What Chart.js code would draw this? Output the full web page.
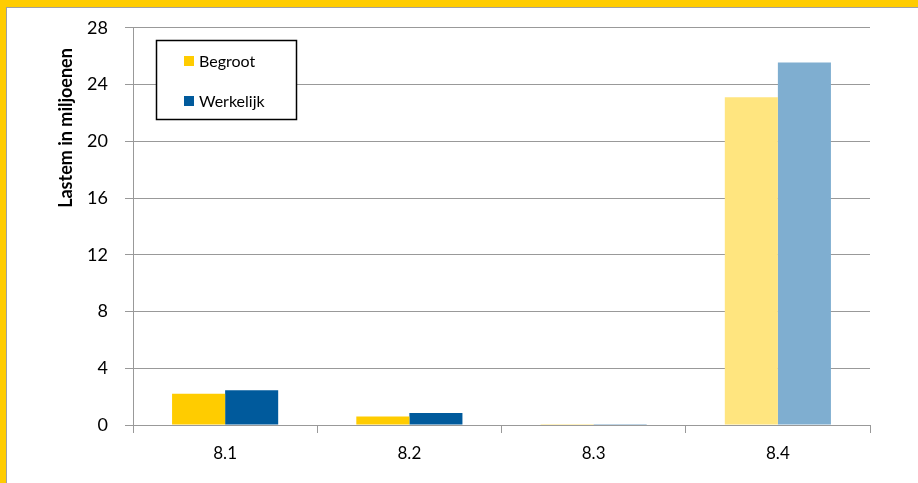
<!DOCTYPE html>
<html>
<head>
<meta charset="utf-8">
<script src="https://cdn.jsdelivr.net/npm/chart.js@4"></script>
<style>
    html, body { margin: 0; padding: 0; background: #fff; }
    #frame {
        position: absolute; left: 0; top: 0; width: 918px; height: 483px; box-sizing: border-box;
        border-left: 6px solid #FFCC00; border-top: 7px solid #FFCC00;
    }
    #inner { width: 100%; height: 100%; box-sizing: border-box; border-left: 1px solid #A0A0A0; border-top: 1px solid #A0A0A0; }
    #wrap { position: absolute; left: 0; top: 0; width: 918px; height: 483px; }
</style>
</head>
<body>
<div id="frame"><div id="inner"></div></div>
<div id="wrap"><canvas id="chart"></canvas></div>
<script>
const categories = ['8.1', '8.2', '8.3', '8.4'];
const begroot = [2.2, 0.6, 0.05, 23.1];
const werkelijk = [2.45, 0.85, 0.05, 25.55];
const yTicks = [0, 4, 8, 12, 16, 20, 24, 28];
const yTitle = 'Lastem in miljoenen';

const FONT = 'Lato, "Open Sans", sans-serif';
const yellow = '#FFCC00', yellowPale = '#FFE57F';
const blue = '#005A9C', bluePale = '#7FAED0';

// last group is drawn in the paler tints
const begrootColors = categories.map((c, i) => i === categories.length - 1 ? yellowPale : yellow);
const werkelijkColors = categories.map((c, i) => i === categories.length - 1 ? bluePale : blue);

const yTitlePlugin = {
    id: 'yTitle',
    afterDraw(chart) {
        const ctx = chart.ctx;
        ctx.save();
        ctx.translate(66, 128);
        ctx.rotate(-Math.PI / 2);
        ctx.font = 'bold 18px ' + FONT;
        ctx.fillStyle = '#000';
        ctx.textAlign = 'center';
        ctx.textBaseline = 'middle';
        ctx.fillText(yTitle, 0, 0);
        ctx.restore();
    }
};

const boxLegend = {
    id: 'boxLegend',
    afterDatasetsDraw(chart) {
        const ctx = chart.ctx;
        ctx.save();
        ctx.fillStyle = '#fff';
        ctx.fillRect(156, 40, 141, 80);
        ctx.strokeStyle = '#000';
        ctx.lineWidth = 1.5;
        ctx.strokeRect(156.5, 40.5, 140, 79);
        ctx.font = '16px ' + FONT;
        ctx.textBaseline = 'middle';
        chart.data.datasets.forEach((ds, i) => {
            const y = 61 + i * 40;
            ctx.fillStyle = ds.legendColor;
            ctx.fillRect(184, y - 5, 10, 10);
            ctx.fillStyle = '#000';
            ctx.fillText(ds.label, 199, y + 1);
        });
        ctx.restore();
    }
};

new Chart(document.getElementById('chart'), {
    type: 'bar',
    data: {
        labels: categories,
        datasets: [
            { label: 'Begroot', data: begroot, backgroundColor: begrootColors, legendColor: yellow, borderWidth: 0 },
            { label: 'Werkelijk', data: werkelijk, backgroundColor: werkelijkColors, legendColor: blue, borderWidth: 0 }
        ]
    },
    options: {
        responsive: true,
        maintainAspectRatio: false,
        animation: false,
        layout: { padding: { left: 0, top: 25, right: 48, bottom: 0 } },
        datasets: { bar: { categoryPercentage: 0.576, barPercentage: 1.0 } },
        plugins: { legend: { display: false }, tooltip: { enabled: false } },
        scales: {
            x: {
                grid: { drawOnChartArea: false, drawTicks: true, tickLength: 8, color: '#999', offset: true },
                border: { color: '#999', width: 1 },
                ticks: { color: '#000', font: { family: FONT, size: 17 }, padding: 10 },
                afterFit: s => { s.height = 58; }
            },
            y: {
                min: 0, max: 28,
                afterBuildTicks: s => { s.ticks = yTicks.map(v => ({ value: v })); },
                grid: { color: '#999', tickLength: 8, lineWidth: 1 },
                border: { color: '#999', width: 1 },
                ticks: { color: '#000', font: { family: FONT, size: 18 }, padding: 17 },
                afterFit: s => { s.width = 133; }
            }
        }
    },
    plugins: [yTitlePlugin, boxLegend]
});
</script>
</body>
</html>
